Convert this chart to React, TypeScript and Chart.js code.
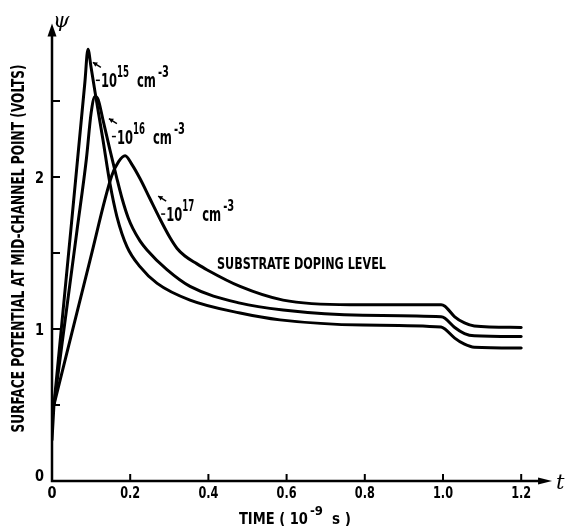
import React, { useEffect, useRef } from "react";
import { Chart, registerables } from "chart.js";

Chart.register(...registerables);

// Time in units of 1e-9 s, surface potential psi in volts
// common initial rise (all three curves coincide here)
const timeStart = [0, 0.005];
const psiStart = [0.27, 0.5];

const time15 = [0.005, 0.05, 0.084, 0.092, 0.1, 0.11, 0.13, 0.148, 0.166, 0.192, 0.225, 0.269, 0.353, 0.481, 0.583, 0.795, 0.995, 1.005, 1.03, 1.055, 1.08, 1.2];
const psi15 = [0.5, 1.7, 2.62, 2.84, 2.72, 2.56, 2.25, 1.96, 1.74, 1.54, 1.41, 1.3, 1.19, 1.105, 1.06, 1.026, 1.013, 1.0, 0.94, 0.9, 0.88, 0.875];

const time16 = [0.005, 0.064, 0.088, 0.1, 0.11, 0.118, 0.13, 0.148, 0.165, 0.179, 0.195, 0.207, 0.225, 0.243, 0.294, 0.353, 0.481, 0.591, 0.795, 0.995, 1.005, 1.03, 1.055, 1.08, 1.2];
const psi16 = [0.5, 1.65, 2.12, 2.42, 2.53, 2.51, 2.38, 2.18, 2.0, 1.86, 1.73, 1.66, 1.58, 1.52, 1.39, 1.28, 1.17, 1.125, 1.09, 1.08, 1.07, 1.01, 0.97, 0.955, 0.95];

const time17 = [0.005, 0.097, 0.153, 0.17, 0.187, 0.205, 0.225, 0.25, 0.275, 0.302, 0.32, 0.34, 0.37, 0.396, 0.481, 0.591, 0.762, 0.995, 1.005, 1.03, 1.055, 1.08, 1.2];
const psi17 = [0.5, 1.45, 2.01, 2.1, 2.14, 2.08, 1.99, 1.86, 1.73, 1.6, 1.53, 1.48, 1.43, 1.39, 1.28, 1.19, 1.16, 1.16, 1.15, 1.08, 1.04, 1.02, 1.01];

const dopingExponents = ["15", "16", "17"];
const xTickValues = [0.2, 0.4, 0.6, 0.8, 1.0, 1.2];
const xLabelValues = [0, 0.2, 0.4, 0.6, 0.8, 1.0, 1.2];
const xLabelTexts = ["0", "0.2", "0.4", "0.6", "0.8", "1.0", "1.2"];
const yTickValues = [0.5, 1, 1.5, 2, 2.5];
const yLabelValues = [0, 1, 2];
const yLabelTexts = ["0", "1", "2"];

const INK = "#000";
const FONT = "'DejaVu Sans Condensed', 'Liberation Sans Narrow', 'Arial Narrow', sans-serif";
const SERIF = "'DejaVu Serif', 'Liberation Serif', serif";

const X_MAX = 1.3;
const Y_MAX = 3.05;
const X_ARROW = 1.279;
const Y_ARROW = 3.01;

// label anchors (data coordinates) for the doping annotations
const labelAnchors = [
  { x: 0.125, y: 2.59 },
  { x: 0.166, y: 2.22 },
  { x: 0.292, y: 1.71 },
];

function zip(t: number[], p: number[]) {
  return t.map((x, i) => ({ x, y: p[i] }));
}

const decor = {
  id: "decor",
  afterDatasetsDraw(chart: any) {
    const ctx: CanvasRenderingContext2D = chart.ctx;
    const xs = chart.scales.x;
    const ys = chart.scales.y;
    const X = (v: number) => xs.getPixelForValue(v);
    const Y = (v: number) => ys.getPixelForValue(v);
    const x0 = X(0);
    const y0 = Y(0);
    const yTip = Y(Y_ARROW);
    const xTip = X(X_ARROW);
    ctx.save();
    ctx.fillStyle = INK;
    ctx.strokeStyle = INK;

    // axes
    ctx.lineWidth = 2.5;
    ctx.beginPath();
    ctx.moveTo(x0, y0 + 1);
    ctx.lineTo(x0, yTip + 8);
    ctx.moveTo(x0 - 1.25, y0);
    ctx.lineTo(xTip - 8, y0);
    ctx.stroke();
    ctx.beginPath();
    ctx.moveTo(x0, yTip);
    ctx.lineTo(x0 - 4.5, yTip + 13);
    ctx.lineTo(x0 + 4.5, yTip + 13);
    ctx.closePath();
    ctx.fill();
    ctx.beginPath();
    ctx.moveTo(xTip, y0);
    ctx.lineTo(xTip - 14, y0 - 3.5);
    ctx.lineTo(xTip - 14, y0 + 3.5);
    ctx.closePath();
    ctx.fill();

    // ticks
    ctx.lineWidth = 2;
    ctx.beginPath();
    yTickValues.forEach((v) => {
      ctx.moveTo(x0, Y(v));
      ctx.lineTo(x0 + 8, Y(v));
    });
    xTickValues.forEach((v) => {
      ctx.moveTo(X(v), y0);
      ctx.lineTo(X(v), y0 - 7);
    });
    ctx.stroke();

    // tick labels
    ctx.font = `bold 15px ${FONT}`;
    ctx.textBaseline = "alphabetic";
    ctx.textAlign = "center";
    xLabelTexts.forEach((s, i) => {
      ctx.fillText(s, X(xLabelValues[i]), y0 + 17, s.length > 1 ? 20 : 9);
    });
    ctx.textAlign = "right";
    yLabelTexts.forEach((s, i) => {
      const v = yLabelValues[i];
      ctx.fillText(s, x0 - 8, Y(v) + (v === 0 ? 0 : 6), 9);
    });

    // axis symbols
    ctx.textAlign = "left";
    ctx.font = `italic 21px ${SERIF}`;
    ctx.fillText("\u03C8", x0 + 1, yTip + 4);
    ctx.fillText("t", xTip + 4, y0 + 8);

    // y title
    ctx.save();
    ctx.translate(x0 - 32.5, Y(1.53));
    ctx.rotate(-Math.PI / 2);
    ctx.textAlign = "center";
    ctx.textBaseline = "middle";
    ctx.font = `bold 17px ${FONT}`;
    ctx.fillText("SURFACE POTENTIAL AT MID-CHANNEL POINT (VOLTS)", 0, 0, 368);
    ctx.restore();

    // x title
    ctx.textAlign = "left";
    ctx.textBaseline = "alphabetic";
    const tx = X(0.478);
    const ty = y0 + 43;
    ctx.font = `bold 16px ${FONT}`;
    ctx.fillText("TIME ( 10", tx, ty, 69);
    ctx.font = `bold 13px ${FONT}`;
    ctx.fillText("-9", tx + 71, ty - 9, 14);
    ctx.font = `bold 16px ${FONT}`;
    ctx.fillText("s )", tx + 93, ty, 19);

    // substrate label
    ctx.font = `bold 16px ${FONT}`;
    ctx.fillText("SUBSTRATE DOPING LEVEL", X(0.422), Y(1.395), 169);

    // doping annotations
    labelAnchors.forEach((a, i) => {
      const ax = X(a.x);
      const ay = Y(a.y);
      ctx.font = `bold 20px ${FONT}`;
      ctx.fillText("10", ax, ay, 16);
      ctx.font = `bold 15px ${FONT}`;
      ctx.fillText(dopingExponents[i], ax + 16, ay - 10, 12);
      ctx.font = `bold 19px ${FONT}`;
      ctx.fillText("cm", ax + 36, ay, 19);
      ctx.font = `bold 15px ${FONT}`;
      ctx.fillText("-3", ax + 57, ay - 10, 11);
      // leader dash
      ctx.lineWidth = 1.5;
      ctx.beginPath();
      ctx.moveTo(ax - 5, ay - 7);
      ctx.lineTo(ax - 1, ay - 7);
      ctx.stroke();
      // small arrow pointing to curve
      const tipX = ax - 8;
      const tipY = ay - 25;
      const tailX = ax;
      const tailY = ay - 20;
      ctx.beginPath();
      ctx.moveTo(tailX, tailY);
      ctx.lineTo(tipX, tipY);
      ctx.stroke();
      const ang = Math.atan2(tipY - tailY, tipX - tailX);
      ctx.beginPath();
      ctx.moveTo(tipX, tipY);
      ctx.lineTo(tipX - 5 * Math.cos(ang - 0.5), tipY - 5 * Math.sin(ang - 0.5));
      ctx.lineTo(tipX - 5 * Math.cos(ang + 0.5), tipY - 5 * Math.sin(ang + 0.5));
      ctx.closePath();
      ctx.fill();
    });

    ctx.restore();
  },
};

export default function App() {
  const ref = useRef<HTMLCanvasElement>(null);
  useEffect(() => {
    const canvas = ref.current;
    if (!canvas) return;
    const chart = new Chart(canvas, {
      type: "line",
      data: {
        datasets: [
          { label: "start", data: zip(timeStart, psiStart), tension: 0, cubicInterpolationMode: "default" },
          { label: "1e15", data: zip(time15, psi15) },
          { label: "1e16", data: zip(time16, psi16) },
          { label: "1e17", data: zip(time17, psi17) },
        ],
      },
      options: {
        animation: false,
        responsive: false,
        devicePixelRatio: 1,
        layout: { padding: { left: 52, top: 481 - Y_MAX * 152, right: 568 - 52 - X_MAX * 391, bottom: 45 } },
        plugins: { legend: { display: false }, tooltip: { enabled: false } },
        scales: {
          x: { type: "linear", min: 0, max: X_MAX, display: false },
          y: { type: "linear", min: 0, max: Y_MAX, display: false },
        },
        elements: {
          line: { borderWidth: 3, borderColor: INK, cubicInterpolationMode: "monotone", fill: false, borderJoinStyle: "round", borderCapStyle: "round" },
          point: { radius: 0, hoverRadius: 0 },
        },
      } as any,
      plugins: [decor],
    });
    return () => chart.destroy();
  }, []);
  return (
    <div style={{ position: "absolute", left: 0, top: 0, width: 568, height: 526, background: "#fff" }}>
      <canvas ref={ref} width={568} height={526} style={{ display: "block" }} />
    </div>
  );
}
